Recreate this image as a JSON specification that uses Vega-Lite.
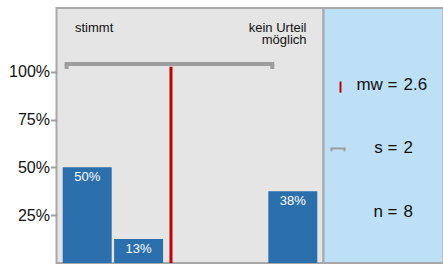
{
  "$schema": "https://vega.github.io/schema/vega-lite/v6.json",
  "padding": {"left": 7.5, "top": 7, "right": 0, "bottom": 0},
  "background": "white",
  "spacing": 0,
  "bounds": "flush",
  "config": {"font": "Liberation Sans", "text": {"font": "Liberation Sans"}},
  "datasets": {
    "bars": [
      {"cat": 1, "pct": 50, "label": "50%"},
      {"cat": 2, "pct": 12.5, "label": "13%"},
      {"cat": 3, "pct": 0, "label": ""},
      {"cat": 4, "pct": 0, "label": ""},
      {"cat": 5, "pct": 37.5, "label": "38%"}
    ],
    "stats": [{"mw": 2.63, "s": 2, "n": 8, "lo": 0.6, "hi": 4.6}],
    "legend": [
      {"row": 3, "lab": "mw =", "val": "2.6"},
      {"row": 2, "lab": "s =", "val": "2"},
      {"row": 1, "lab": "n =", "val": "8"}
    ]
  },
  "hconcat": [
    {
      "width": 267,
      "height": 255,
      "view": {"fill": "#e5e5e5", "stroke": "#a8a8a8", "strokeWidth": 2},
      "layer": [
        {
          "data": {"name": "bars"},
          "mark": {"type": "bar", "width": 49, "color": "#2c6fad"},
          "encoding": {
            "x": {"field": "cat", "type": "quantitative", "scale": {"domain": [0.5, 5.5], "nice": false, "zero": false}, "axis": null},
            "y": {"field": "pct", "type": "quantitative", "scale": {"domain": [0, 133.3], "nice": false},
              "axis": {"values": [25, 50, 75, 100], "labelExpr": "datum.value + '%'", "title": null, "grid": false, "domain": false,
                "tickColor": "#9e9e9e", "tickSize": 6, "tickWidth": 2, "labelFontSize": 16, "labelColor": "#111", "labelPadding": 1, "labelFont": "Liberation Sans"}}
          }
        },
        {
          "data": {"name": "bars"},
          "transform": [{"filter": "datum.pct > 0"}],
          "mark": {"type": "text", "color": "white", "fontSize": 13, "baseline": "alphabetic", "dy": 14},
          "encoding": {
            "x": {"field": "cat", "type": "quantitative"},
            "y": {"field": "pct", "type": "quantitative"},
            "text": {"field": "label"}
          }
        },
        {
          "data": {"name": "stats"},
          "mark": {"type": "rule", "color": "#c00000", "strokeWidth": 3},
          "encoding": {
            "x": {"field": "mw", "type": "quantitative"},
            "y": {"datum": 102.6},
            "y2": {"datum": 0}
          }
        },
        {
          "data": {"name": "stats"},
          "mark": {"type": "rule", "color": "#9e9e9e", "strokeWidth": 4, "strokeCap": "square"},
          "encoding": {
            "x": {"field": "lo", "type": "quantitative"},
            "x2": {"field": "hi"},
            "y": {"datum": 104}
          }
        },
        {
          "data": {"name": "stats"},
          "transform": [{"fold": ["lo", "hi"], "as": ["end", "xv"]}],
          "mark": {"type": "rule", "color": "#9e9e9e", "strokeWidth": 4},
          "encoding": {
            "x": {"field": "xv", "type": "quantitative"},
            "y": {"datum": 104},
            "y2": {"datum": 101.4}
          }
        },
        {
          "data": {"values": [{"t": "stimmt"}]},
          "mark": {"type": "text", "align": "left", "baseline": "alphabetic", "fontSize": 13, "dx": 13.5, "color": "#111"},
          "encoding": {
            "x": {"datum": 0.5},
            "y": {"datum": 120.6},
            "text": {"field": "t"}
          }
        },
        {
          "data": {"values": [{"t": ["kein Urteil", "möglich"]}]},
          "mark": {"type": "text", "align": "right", "baseline": "alphabetic", "fontSize": 13, "lineHeight": 12, "dx": -12, "color": "#111"},
          "encoding": {
            "x": {"datum": 5.5},
            "y": {"datum": 120.6},
            "text": {"field": "t"}
          }
        }
      ]
    },
    {
      "width": 120,
      "height": 255,
      "view": {"fill": "#bde0f7", "stroke": "#a8a8a8", "strokeWidth": 2},
      "data": {"name": "legend"},
      "layer": [
        {
          "mark": {"type": "text", "align": "right", "baseline": "middle", "fontSize": 17, "color": "#111"},
          "encoding": {
            "x": {"datum": 74, "type": "quantitative", "scale": {"domain": [0, 120], "nice": false, "zero": false}, "axis": null},
            "y": {"field": "row", "type": "quantitative", "scale": {"domain": [0.203, 4.203], "nice": false, "zero": false}, "axis": null},
            "text": {"field": "lab"}
          }
        },
        {
          "mark": {"type": "text", "align": "left", "baseline": "middle", "fontSize": 17, "color": "#111"},
          "encoding": {
            "x": {"datum": 80, "type": "quantitative"},
            "y": {"field": "row", "type": "quantitative"},
            "text": {"field": "val"}
          }
        },
        {
          "transform": [{"filter": "datum.row == 3"}],
          "mark": {"type": "rule", "color": "#c00000", "strokeWidth": 2},
          "encoding": {
            "x": {"datum": 17, "type": "quantitative"},
            "y": {"datum": 3.05},
            "y2": {"datum": 2.875}
          }
        },
        {
          "transform": [{"filter": "datum.row == 2"}],
          "mark": {"type": "rule", "color": "#9e9e9e", "strokeWidth": 2},
          "encoding": {
            "x": {"datum": 7, "type": "quantitative"},
            "x2": {"datum": 22},
            "y": {"datum": 2.0}
          }
        },
        {
          "transform": [{"filter": "datum.row == 2"}],
          "mark": {"type": "rule", "color": "#9e9e9e", "strokeWidth": 2},
          "encoding": {
            "x": {"datum": 8, "type": "quantitative"},
            "y": {"datum": 2.0},
            "y2": {"datum": 1.955}
          }
        },
        {
          "transform": [{"filter": "datum.row == 2"}],
          "mark": {"type": "rule", "color": "#9e9e9e", "strokeWidth": 2},
          "encoding": {
            "x": {"datum": 21, "type": "quantitative"},
            "y": {"datum": 2.0},
            "y2": {"datum": 1.955}
          }
        }
      ]
    }
  ]
}
